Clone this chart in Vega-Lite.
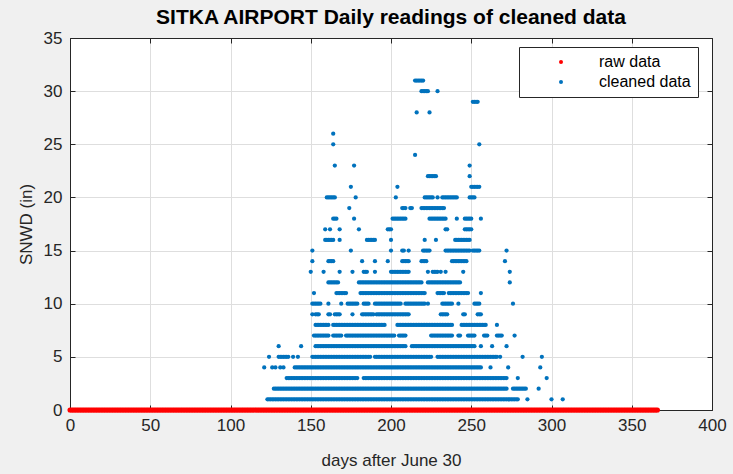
{
  "$schema": "https://vega.github.io/schema/vega-lite/v6.json",
  "width": 642,
  "height": 372,
  "autosize": {"type": "none"},
  "padding": {"left": 70, "top": 38, "right": 21, "bottom": 64},
  "background": "#f0f0f0",
  "title": {"text": "SITKA AIRPORT Daily readings of cleaned data", "fontSize": 21, "fontWeight": "bold", "font": "Liberation Sans", "color": "#000000", "offset": 1, "anchor": "middle"},
  "config": {
    "view": {"fill": "white", "stroke": "#262626", "strokeWidth": 1},
    "font": "Liberation Sans"
  },
  "datasets": {
    "pts": [
      {"series": "cleaned data", "s": 1, "d": [123,124,125,126,127,128,129,130,131,132,133,134,135,136,137,138,139,140,141,142,143,144,145,146,147,148,149,150,151,152,153,154,155,156,157,158,159,160,161,162,163,164,165,166,167,168,169,170,171,172,173,174,175,176,177,178,179,180,181,182,183,184,185,186,187,188,189,190,191,192,193,194,195,196,197,198,199,200,201,202,203,204,205,206,207,208,209,210,211,212,213,214,215,216,217,218,219,220,221,222,223,224,225,226,227,228,229,230,231,232,233,234,235,236,237,238,239,240,241,242,243,244,245,246,247,248,249,250,251,252,253,254,255,256,257,258,259,260,261,262,263,264,265,266,267,268,269,270,271,272,273,274,275,276,277,278,279,285,300,307]},
      {"series": "cleaned data", "s": 2, "d": [127,128,129,130,131,132,133,134,135,136,137,138,139,140,141,142,143,144,145,146,147,148,149,150,151,152,153,154,155,156,157,158,159,160,161,162,163,164,165,166,167,168,169,170,171,172,173,174,175,176,177,178,179,180,181,182,183,184,185,186,187,188,189,190,191,192,193,194,195,196,197,198,199,200,201,202,203,204,205,206,207,208,209,210,211,212,213,214,215,216,217,218,219,220,221,222,223,224,225,226,227,228,229,230,231,232,233,234,235,236,237,238,239,240,241,242,243,244,245,246,247,248,249,250,251,252,253,254,255,256,257,258,259,260,261,262,263,264,265,266,267,268,269,270,271,272,276,277,278,279,280,281,282,283,284,292]},
      {"series": "cleaned data", "s": 3, "d": [135,136,137,138,139,140,141,142,143,144,145,146,147,148,149,150,151,152,153,154,155,156,157,158,159,160,161,162,163,164,165,166,167,168,169,170,171,172,173,174,175,176,177,178,179,183,184,185,186,187,188,189,190,191,192,193,194,195,196,197,198,199,200,201,202,203,204,205,206,207,208,209,210,211,212,213,214,215,216,217,218,219,220,221,222,223,224,225,226,227,228,229,230,231,232,233,234,235,236,237,238,239,240,241,242,243,244,245,246,247,248,249,250,251,252,253,254,255,256,257,258,259,260,261,262,263,264,265,266,267,268,269,270,271,272,279,297]},
      {"series": "cleaned data", "s": 4, "d": [121,126,128,131,133,140,141,142,143,144,145,146,147,148,149,150,151,152,153,154,155,156,157,158,159,160,161,162,163,164,165,166,167,168,169,170,171,172,173,174,175,176,177,178,179,180,181,182,183,184,185,186,187,188,189,190,191,192,193,194,195,196,197,198,199,200,201,202,203,204,205,206,207,208,209,210,211,212,213,214,215,216,217,218,219,220,221,222,223,224,225,226,227,228,229,230,231,232,233,234,235,236,237,238,239,240,241,242,243,244,245,246,247,248,249,250,251,252,253,254,255,256,262,273,293]},
      {"series": "cleaned data", "s": 5, "d": [124,130,131,132,133,134,135,136,139,142,151,152,153,154,155,156,157,158,159,160,161,162,163,164,165,166,167,168,169,170,171,172,173,174,175,176,177,178,179,180,181,182,183,184,185,186,187,190,191,192,193,194,195,196,197,198,199,200,201,202,203,204,205,206,207,208,209,210,211,212,213,214,215,216,217,218,219,220,221,222,223,224,225,229,230,231,232,233,234,235,236,237,238,239,240,241,242,243,244,245,246,247,248,249,250,251,252,253,254,255,256,257,258,259,260,261,262,263,264,265,266,268,282,294]},
      {"series": "cleaned data", "s": 6, "d": [130,144,153,154,155,156,157,158,159,160,161,162,163,164,165,166,167,168,169,170,171,172,173,174,175,176,177,178,179,180,181,182,183,184,185,186,187,188,189,190,191,192,193,194,195,196,197,198,199,200,201,202,203,204,205,206,207,208,209,213,214,215,216,217,218,219,220,221,222,223,224,225,226,227,228,229,230,231,232,233,234,235,236,237,238,239,240,241,242,243,244,245,246,247,248,249,250,251,252,256,263,272]},
      {"series": "cleaned data", "s": 7, "d": [152,153,154,155,156,157,158,159,160,161,164,165,166,167,168,169,172,173,174,175,176,177,178,179,180,181,182,183,184,185,186,187,188,189,190,191,192,193,194,195,196,197,198,199,200,201,202,205,206,207,208,209,225,226,227,228,229,230,231,232,233,234,235,236,237,238,242,243,248,249,250,251,252,258,259,260,266,267,268,269,277]},
      {"series": "cleaned data", "s": 8, "d": [153,154,155,156,157,158,159,160,161,164,165,166,167,168,169,170,171,172,173,174,175,176,177,178,179,180,181,182,183,184,185,186,187,188,189,190,191,192,193,194,195,196,204,205,206,207,208,209,210,211,212,213,214,215,216,217,218,219,220,221,222,223,224,225,226,227,228,229,230,231,232,233,234,235,236,237,238,244,245,246,247,248,249,250,251,252,253,254,255,256,257,258,259,266]},
      {"series": "cleaned data", "s": 9, "d": [151,153,154,155,161,162,165,166,167,168,176,182,183,184,185,186,187,188,189,191,192,193,194,195,196,197,198,199,200,201,202,203,204,205,206,207,208,209,210,211,231,232,233,234,235,245,246,254,255,256]},
      {"series": "cleaned data", "s": 10, "d": [151,152,153,154,155,156,161,169,173,174,175,176,177,178,179,183,184,185,186,190,191,192,193,194,195,196,197,198,199,200,201,202,203,204,205,206,209,210,211,212,213,214,215,216,217,218,219,220,221,223,232,233,234,235,236,237,238,242,252,253,254,255,276]},
      {"series": "cleaned data", "s": 11, "d": [152,166,167,168,169,170,171,172,181,182,183,184,185,186,187,188,189,190,191,192,193,194,195,196,197,198,199,200,201,202,203,204,205,206,207,208,209,210,211,212,213,214,215,216,217,218,219,220,221,229,230,231,232,233,236,237,238,239,240,241,242,243,244,245,246,247,248,256]},
      {"series": "cleaned data", "s": 12, "d": [161,162,163,164,165,166,167,180,181,182,183,184,185,186,187,188,189,190,191,192,193,194,195,196,197,198,199,200,201,202,203,204,205,206,207,208,209,210,211,212,213,214,215,216,217,218,219,223,224,225,226,227,228,229,230,231,232,233,234,235,236,237,238,239,240,241,242,243,274]},
      {"series": "cleaned data", "s": 13, "d": [150,158,168,176,183,184,185,190,200,201,202,203,204,205,206,207,208,209,210,211,223,226,227,228,229,231,234,245,274]},
      {"series": "cleaned data", "s": 14, "d": [151,161,162,163,164,182,190,198,207,208,209,210,211,219,220,221,222,238,239,240,241,242,243,244,245,246,247,271]},
      {"series": "cleaned data", "s": 15, "d": [151,175,200,207,208,211,220,221,222,223,224,234,235,236,237,238,239,240,241,242,243,244,245,246,247,248,249,251,252,253,254,255,272]},
      {"series": "cleaned data", "s": 16, "d": [159,160,161,162,163,164,168,185,186,187,188,189,190,200,221,228,240,241,242,243,244,245,246,247,248,249]},
      {"series": "cleaned data", "s": 17, "d": [159,162,168,180,198,199,200,234,235,246,247,248,249,250]},
      {"series": "cleaned data", "s": 18, "d": [164,165,166,177,201,202,203,204,205,206,207,208,209,224,225,226,227,228,229,230,231,232,233,234,241,246,247,248,249,250,256]},
      {"series": "cleaned data", "s": 19, "d": [174,207,208,209,212,213,219,220,221,222,223,224,225,226,227,228,229,230,231,232,233]},
      {"series": "cleaned data", "s": 20, "d": [160,161,162,163,164,165,178,203,221,222,223,224,225,226,229,232,233,234,235,236,237,238,239,240,241,249,250,251,252]},
      {"series": "cleaned data", "s": 21, "d": [175,204,250,251,252,253,254,255]},
      {"series": "cleaned data", "s": 22, "d": [223,224,225,226,227,228,249]},
      {"series": "cleaned data", "s": 23, "d": [165,177,249]},
      {"series": "cleaned data", "s": 24, "d": [215]},
      {"series": "cleaned data", "s": 25, "d": [164,255]},
      {"series": "cleaned data", "s": 26, "d": [164]},
      {"series": "cleaned data", "s": 28, "d": [216,224]},
      {"series": "cleaned data", "s": 29, "d": [251,252,253,254]},
      {"series": "cleaned data", "s": 30, "d": [219,220,221,222,223,229]},
      {"series": "cleaned data", "s": 31, "d": [215,216,217,218,219,220]},
      {"series": "raw data", "s": 0, "d": [0,1,2,3,4,5,6,7,8,9,10,11,12,13,14,15,16,17,18,19,20,21,22,23,24,25,26,27,28,29,30,31,32,33,34,35,36,37,38,39,40,41,42,43,44,45,46,47,48,49,50,51,52,53,54,55,56,57,58,59,60,61,62,63,64,65,66,67,68,69,70,71,72,73,74,75,76,77,78,79,80,81,82,83,84,85,86,87,88,89,90,91,92,93,94,95,96,97,98,99,100,101,102,103,104,105,106,107,108,109,110,111,112,113,114,115,116,117,118,119,120,121,122,123,124,125,126,127,128,129,130,131,132,133,134,135,136,137,138,139,140,141,142,143,144,145,146,147,148,149,150,151,152,153,154,155,156,157,158,159,160,161,162,163,164,165,166,167,168,169,170,171,172,173,174,175,176,177,178,179,180,181,182,183,184,185,186,187,188,189,190,191,192,193,194,195,196,197,198,199,200,201,202,203,204,205,206,207,208,209,210,211,212,213,214,215,216,217,218,219,220,221,222,223,224,225,226,227,228,229,230,231,232,233,234,235,236,237,238,239,240,241,242,243,244,245,246,247,248,249,250,251,252,253,254,255,256,257,258,259,260,261,262,263,264,265,266,267,268,269,270,271,272,273,274,275,276,277,278,279,280,281,282,283,284,285,286,287,288,289,290,291,292,293,294,295,296,297,298,299,300,301,302,303,304,305,306,307,308,309,310,311,312,313,314,315,316,317,318,319,320,321,322,323,324,325,326,327,328,329,330,331,332,333,334,335,336,337,338,339,340,341,342,343,344,345,346,347,348,349,350,351,352,353,354,355,356,357,358,359,360,361,362,363,364,365,366]}
    ]
  },
  "data": {"name": "pts"},
  "transform": [{"flatten": ["d"]}],
  "layer": [
    {
      "transform": [{"filter": "datum.series === 'cleaned data'"}],
      "mark": {"type": "circle", "size": 18, "opacity": 1},
      "encoding": {
        "x": {"field": "d", "type": "quantitative", "scale": {"domain": [0, 400], "nice": false},
          "axis": {"orient": "bottom", "values": [0,50,100,150,200,250,300,350,400], "title": "days after June 30", "titleFontSize": 17, "titleFontWeight": "normal", "titleColor": "#262626", "titlePadding": 19, "labelFontSize": 17, "labelColor": "#262626", "labelFlush": false, "labelOverlap": false, "labelPadding": 12, "tickSize": -5, "tickColor": "#262626", "domainColor": "#262626", "grid": true, "gridColor": "#dedede"}},
        "y": {"field": "s", "type": "quantitative", "scale": {"domain": [0, 35], "nice": false},
          "axis": {"orient": "left", "values": [0,5,10,15,20,25,30,35], "title": "SNWD (in)", "titleFontSize": 17, "titleFontWeight": "normal", "titleColor": "#262626", "titlePadding": 8, "labelFontSize": 17, "labelColor": "#262626", "labelFlush": false, "labelOverlap": false, "labelPadding": 13, "tickSize": -5, "tickColor": "#262626", "domainColor": "#262626", "grid": true, "gridColor": "#dedede"}},
        "color": {"field": "series", "type": "nominal",
          "scale": {"domain": ["raw data", "cleaned data"], "range": ["#ff0000", "#0072bd"]},
          "legend": {"orient": "none", "legendX": 449, "legendY": 9, "title": null, "direction": "vertical", "strokeColor": "#262626", "fillColor": "white", "padding": 7, "symbolType": "circle", "symbolSize": 16, "symbolOffset": 27, "labelOffset": 30, "labelFontSize": 16, "labelColor": "#000000", "rowPadding": 4, "symbolStrokeWidth": 0}}
      }
    },
    {
      "transform": [{"filter": "datum.series === 'raw data'"}],
      "mark": {"type": "circle", "size": 26, "opacity": 1},
      "encoding": {
        "x": {"field": "d", "type": "quantitative", "scale": {"domain": [0, 400], "nice": false},
          "axis": {"orient": "top", "values": [0,50,100,150,200,250,300,350,400], "title": null, "labels": false, "tickSize": -5, "tickColor": "#262626", "domainColor": "#262626", "grid": false}},
        "y": {"field": "s", "type": "quantitative", "scale": {"domain": [0, 35], "nice": false},
          "axis": {"orient": "right", "values": [0,5,10,15,20,25,30,35], "title": null, "labels": false, "tickSize": -5, "tickColor": "#262626", "domainColor": "#262626", "grid": false}},
        "color": {"field": "series", "type": "nominal"}
      }
    }
  ],
  "resolve": {"axis": {"x": "independent", "y": "independent"}}
}
